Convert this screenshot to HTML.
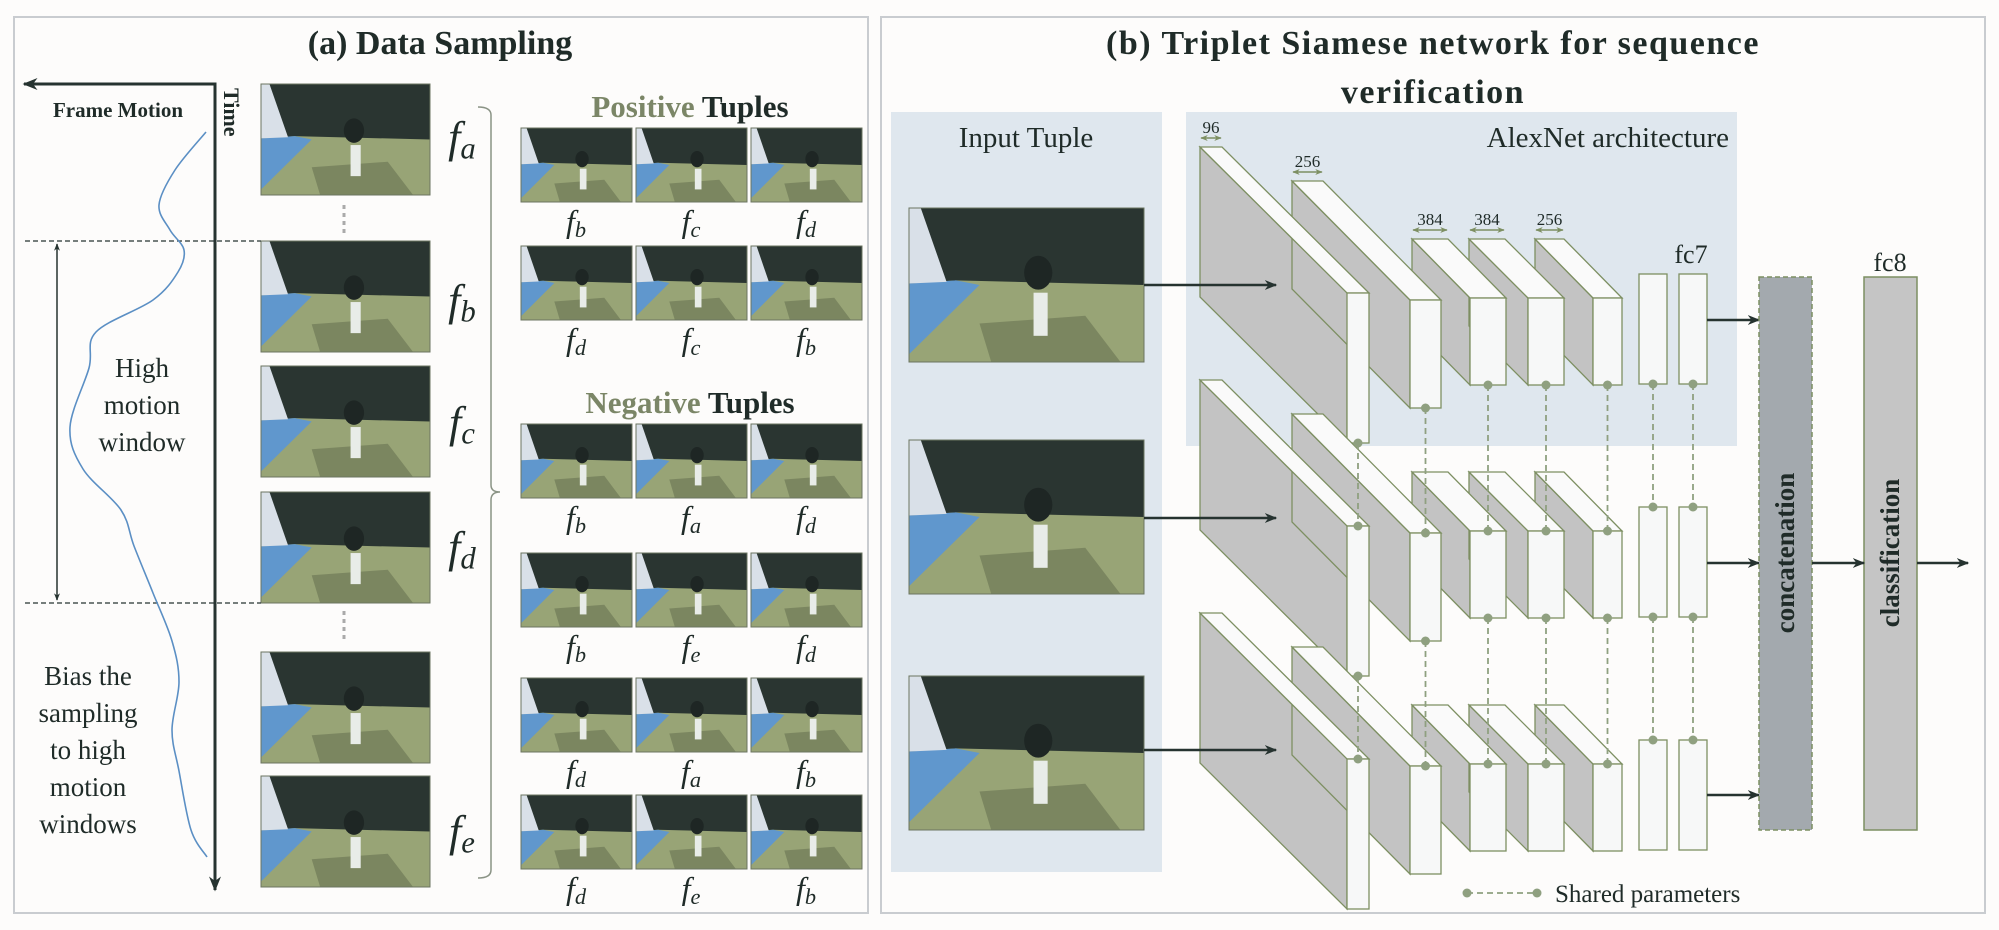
<!DOCTYPE html>
<html><head><meta charset="utf-8">
<style>
html,body{margin:0;padding:0;background:#fdfcfb;}
svg{display:block;}
text{font-family:"Liberation Serif","DejaVu Serif",serif;fill:#1f2b28;}
</style></head>
<body>
<svg id="fig" width="1999" height="930" viewBox="0 0 1999 930" xmlns="http://www.w3.org/2000/svg">
<defs>
<marker id="ah" viewBox="0 0 10 10" refX="9" refY="5" markerWidth="5" markerHeight="5" orient="auto-start-reverse"><path d="M0,1 L10,5 L0,9 L3,5 z" fill="#263330"/></marker>
<marker id="ahg" viewBox="0 0 10 10" refX="9" refY="5" markerWidth="5" markerHeight="5" orient="auto-start-reverse"><path d="M0,1 L10,5 L0,9 L3,5 z" fill="#7d8f62"/></marker>
</defs>
<rect x="14" y="17" width="854" height="896" fill="#fdfcfb" stroke="#c9ccd0" stroke-width="2"/>
<rect x="881" y="17" width="1104" height="896" fill="#fdfcfb" stroke="#c9ccd0" stroke-width="2"/>
<text x="440" y="54" text-anchor="middle" font-size="34" font-weight="bold">(a) Data Sampling</text>
<text x="1433" y="54" text-anchor="middle" font-size="34" font-weight="bold" letter-spacing="1.5">(b) Triplet Siamese network for sequence</text>
<text x="1433" y="103" text-anchor="middle" font-size="34" font-weight="bold" letter-spacing="1.5">verification</text>
<rect x="891" y="112" width="271" height="760" fill="#dfe7ee"/>
<text x="1026" y="147" text-anchor="middle" font-size="29">Input Tuple</text>
<rect x="1186" y="112" width="551" height="334" fill="#dfe7ee"/>
<text x="1729" y="147" text-anchor="end" font-size="29">AlexNet architecture</text>
<g id="g"></g>
</svg>
<script>
var svg=document.getElementById('g');
var NS='http://www.w3.org/2000/svg';
function mk(tag,attrs,parent){var e=document.createElementNS(NS,tag);for(var k in attrs)e.setAttribute(k,attrs[k]);(parent||svg).appendChild(e);return e;}
function photo(x,y,w,h,name){
  var g=mk('g',{});
  
  
  mk('rect',{x:x,y:y,width:w,height:h,fill:'#98a476'},g);
  mk('polygon',{points:[x,y,x+w,y,x+w,y+h*0.5,x+w*0.2,y+h*0.47,x,y+h*0.49].join(','),fill:'#2a3531'},g);
  mk('polygon',{points:[x,y+h*0.49,x+w*0.2,y+h*0.47,x+w*0.3,y+h*0.5,x,y+h*0.95].join(','),fill:'#6097cd'},g);
  mk('polygon',{points:[x,y,x+w*0.05,y,x+w*0.16,y+h*0.48,x,y+h*0.49].join(','),fill:'#d9e0e8'},g);
  mk('polygon',{points:[x+w*0.3,y+h*0.75,x+w*0.75,y+h*0.7,x+w*0.9,y+h,x+w*0.35,y+h].join(','),fill:'#7b8660'},g);
  mk('ellipse',{cx:x+w*0.55,cy:y+h*0.42,rx:w*0.06,ry:h*0.11,fill:'#1e2624'},g);
  mk('rect',{x:x+w*0.53,y:y+h*0.55,width:w*0.06,height:h*0.28,fill:'#e8ece8'},g);
  mk('rect',{x:x,y:y,width:w,height:h,fill:'none',stroke:'#6b7560','stroke-width':1},g);
}
function ftext(x,y,sub,size,name){
  var t=mk('text',{x:x,y:y,'font-size':size,'font-style':'italic','text-anchor':'middle'});
  
  
  t.textContent='f';
  var s=mk('tspan',{'font-size':size*0.7,dy:size*0.15},t);
  s.textContent=sub;
}
// ===== Panel (a) =====
var frameY=[84,241,366,492,652,776];
frameY.forEach(function(y,i){photo(261,y,169,111,'sequence-frame-'+(i+1));});
var fLab=[['a',152],['b',315],['c',437],['d',562],['e',846]];
fLab.forEach(function(p){ftext(462,p[1],p[0],44,'frame-label-f'+p[0]);});
[[205,237],[611,643]].forEach(function(r,i){var l=mk('line',{x1:344,y1:r[0],x2:344,y2:r[1],stroke:'#aaa','stroke-width':3,'stroke-dasharray':'4,4'});

});
var br=mk('path',{d:'M478,107 Q491,107 491,115 L491,485 Q491,492 500,492 Q491,492 491,500 L491,870 Q491,878 478,878',fill:'none',stroke:'#8a9385','stroke-width':1.5});


var ax=mk('path',{d:'M215,890 L215,84 L24,84',fill:'none',stroke:'#263330','stroke-width':3,'marker-start':'url(#ah)','marker-end':'url(#ah)'});


var fm=mk('text',{x:118,y:117,'text-anchor':'middle','font-size':21,'font-weight':'bold'});


fm.textContent='Frame Motion';
var tm=mk('text',{x:224,y:88,'font-size':22,'font-weight':'bold',transform:'rotate(90 224 88)'});


tm.textContent='Time';
[241,603].forEach(function(y,i){var l=mk('line',{x1:25,y1:y,x2:261,y2:y,stroke:'#263330','stroke-width':1.3,'stroke-dasharray':'5,3'});

});
var da=mk('line',{x1:57,y1:244,x2:57,y2:600,stroke:'#263330','stroke-width':1.5,'marker-start':'url(#ah)','marker-end':'url(#ah)'});


var cp=[[206,132],[175,170],[159,205],[170,230],[184,250],[178,272],[153,300],[96,332],[89,368],[70,427],[83,469],[121,510],[134,546],[153,593],[172,641],[179,682],[172,730],[179,771],[191,830],[207,857]];
var d='M'+cp[0][0]+','+cp[0][1];
for(var i=0;i<cp.length-1;i++){var p0=cp[Math.max(i-1,0)],p1=cp[i],p2=cp[i+1],p3=cp[Math.min(i+2,cp.length-1)];
d+=' C'+(p1[0]+(p2[0]-p0[0])/6)+','+(p1[1]+(p2[1]-p0[1])/6)+' '+(p2[0]-(p3[0]-p1[0])/6)+','+(p2[1]-(p3[1]-p1[1])/6)+' '+p2[0]+','+p2[1];}
var cv=mk('path',{d:d,fill:'none',stroke:'#5b8fc4','stroke-width':1.6});


function lines(arr,x,y0,dy,size,name){var t=mk('text',{'font-size':size,'text-anchor':'middle'});


arr.forEach(function(s,i){var ts=mk('tspan',{x:x,y:y0+i*dy},t);ts.textContent=s;});}
lines(['High','motion','window'],142,377,37,27,'high-motion-window-text');
lines(['Bias the','sampling','to high','motion','windows'],88,685,37,27,'bias-sampling-text');
function heading(y,a,b,name){var t=mk('text',{x:690,y:y,'text-anchor':'middle','font-size':31,'font-weight':'bold'});


var s1=mk('tspan',{fill:'#7b8667'},t);s1.textContent=a;var s2=mk('tspan',{},t);s2.textContent=' '+b;}
heading(117,'Positive','Tuples','positive-tuples-heading');
heading(413,'Negative','Tuples','negative-tuples-heading');
var tupX=[521,636,751];
var tupRows=[[128,['b','c','d']],[246,['d','c','b']],[424,['b','a','d']],[553,['b','e','d']],[678,['d','a','b']],[795,['d','e','b']]];
tupRows.forEach(function(r,ri){tupX.forEach(function(x,ci){photo(x,r[0],111,74,'tuple-'+(ri+1)+'-frame-'+(ci+1));
ftext(x+55,r[0]+104,r[1][ci],32,'tuple-'+(ri+1)+'-label-'+(ci+1));});});
// ===== Panel (b) =====
var inY=[208,440,676];
inY.forEach(function(y,i){photo(909,y,235,154,'input-image-'+(i+1));});
var L=[{bx:1200,by:147,w:22,dx:147,dy:146,h:150,lab:'96'},{bx:1292,by:181,w:31,dx:118,dy:119,h:108,lab:'256'},{bx:1412,by:239,w:36,dx:58,dy:59,h:87,lab:'384'},{bx:1469,by:239,w:36,dx:59,dy:59,h:87,lab:'384'},{bx:1535,by:239,w:29,dx:58,dy:59,h:87,lab:'256'}];
var RS=233, OC='#7d8f62';
for(var r=0;r<3;r++){
 L.forEach(function(l,i){var o=r*RS;var p=mk('polygon',{points:[l.bx,l.by+o,l.bx+l.dx,l.by+l.dy+o,l.bx+l.dx,l.by+l.dy+l.h+o,l.bx,l.by+l.h+o].join(','),fill:'#c3c3c3',stroke:OC,'stroke-width':1.3});
 
 });
 L.forEach(function(l,i){var o=r*RS;var p=mk('polygon',{points:[l.bx,l.by+o,l.bx+l.w,l.by+o,l.bx+l.w+l.dx,l.by+l.dy+o,l.bx+l.dx,l.by+l.dy+o].join(','),fill:'#fafafa',stroke:OC,'stroke-width':1.3});
 
 
 var f=mk('rect',{x:l.bx+l.dx,y:l.by+l.dy+o,width:l.w,height:l.h,fill:'#f7f8f8',stroke:OC,'stroke-width':1.3});
 
 });
 [1639,1679].forEach(function(x,k){var f=mk('rect',{x:x,y:274+r*RS,width:28,height:110,fill:'#f7f8f8',stroke:OC,'stroke-width':1.3});
 
 });
}
[285,518,750].forEach(function(y,i){var l=mk('line',{x1:1144,y1:y,x2:1276,y2:y,stroke:'#263330','stroke-width':2.5,'marker-end':'url(#ah)'});

});
L.forEach(function(l,i){var a=mk('line',{x1:l.bx+1,y1:l.by-9,x2:l.bx+l.w-1,y2:l.by-9,stroke:OC,'stroke-width':1.5,'marker-start':'url(#ahg)','marker-end':'url(#ahg)'});


var t=mk('text',{x:l.bx+l.w/2,y:l.by-14,'text-anchor':'middle','font-size':17});


t.textContent=l.lab;});
var fc7=mk('text',{x:1691,y:263,'text-anchor':'middle','font-size':26});


fc7.textContent='fc7';
var cols=L.map(function(l){return {x:l.bx+l.dx+l.w/2,top:l.by+l.dy,bot:l.by+l.dy+l.h};});
cols.push({x:1653,top:274,bot:384});cols.push({x:1693,top:274,bot:384});
cols.forEach(function(c,i){for(var r=0;r<2;r++){var y1=c.bot+r*RS,y2=c.top+(r+1)*RS;
var ln=mk('line',{x1:c.x,y1:y1,x2:c.x,y2:y2,stroke:'#8fa080','stroke-width':1.8,'stroke-dasharray':'6,4'});


[y1,y2].forEach(function(y){var dt=mk('circle',{cx:c.x,cy:y,r:4.5,fill:'#8fa080'});

});}});
[320,563,795].forEach(function(y,i){var l=mk('line',{x1:1707,y1:y,x2:1759,y2:y,stroke:'#263330','stroke-width':2.5,'marker-end':'url(#ah)'});

});
var cc=mk('rect',{x:1759,y:277,width:53,height:553,fill:'#a3a9ae',stroke:'#7d8f62','stroke-width':1.5,'stroke-dasharray':'5,3'});


var ct=mk('text',{x:1794,y:553,'text-anchor':'middle','font-size':27,'font-weight':'bold',transform:'rotate(-90 1794 553)'});


ct.textContent='concatenation';
var cl=mk('rect',{x:1864,y:277,width:53,height:553,fill:'#c5c5c5',stroke:'#7d8f62','stroke-width':1.5});


var clt=mk('text',{x:1899,y:553,'text-anchor':'middle','font-size':27,'font-weight':'bold',transform:'rotate(-90 1899 553)'});


clt.textContent='classification';
var f8=mk('text',{x:1890,y:271,'text-anchor':'middle','font-size':26});


f8.textContent='fc8';
var a1=mk('line',{x1:1812,y1:563,x2:1864,y2:563,stroke:'#263330','stroke-width':2.5,'marker-end':'url(#ah)'});


var a2=mk('line',{x1:1917,y1:563,x2:1968,y2:563,stroke:'#263330','stroke-width':2.5,'marker-end':'url(#ah)'});


var lg=mk('line',{x1:1467,y1:893,x2:1537,y2:893,stroke:'#8fa080','stroke-width':1.8,'stroke-dasharray':'6,4'});


[1467,1537].forEach(function(x){var dt=mk('circle',{cx:x,cy:893,r:4.5,fill:'#8fa080'});

});
var lt=mk('text',{x:1555,y:902,'font-size':25});


lt.textContent='Shared parameters';
</script>
</body></html>
